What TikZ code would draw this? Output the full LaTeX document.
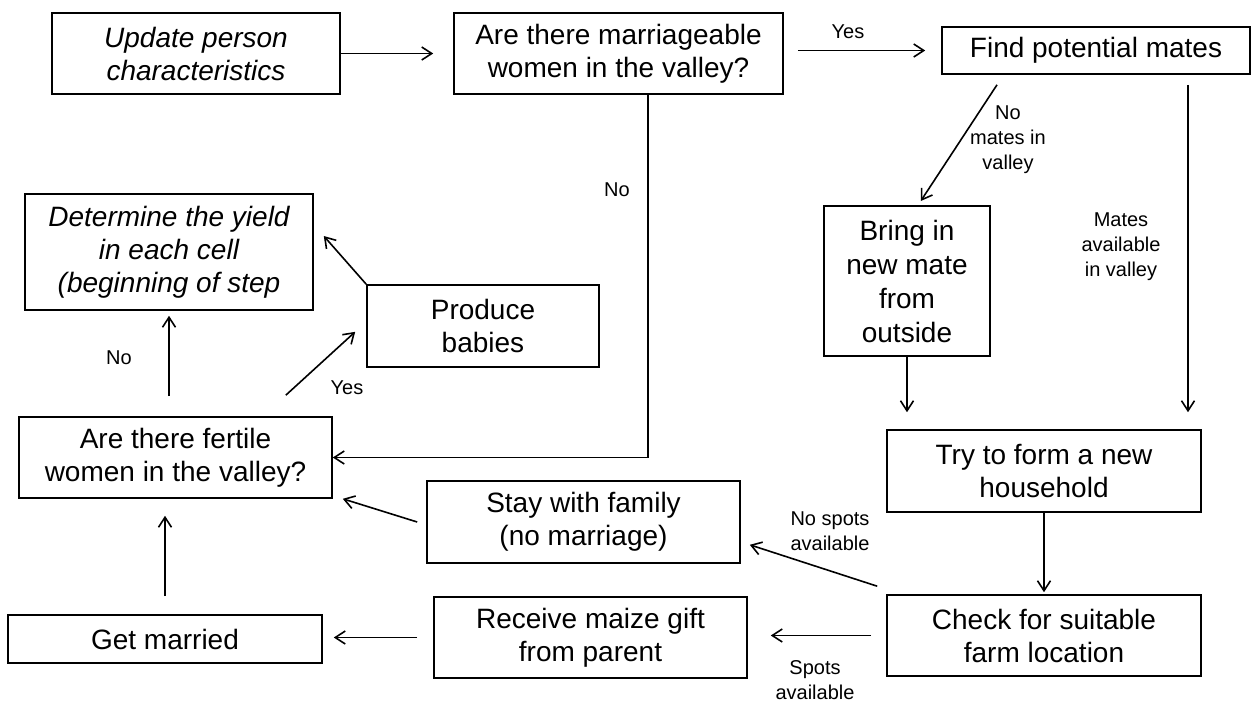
\documentclass[tikz,border=0pt]{standalone}
\usepackage{fontspec}
\setmainfont{Liberation Sans}
\usetikzlibrary{arrows.meta}
\begin{document}
\begin{tikzpicture}[x=1pt, y=-1pt, line width=1.6pt, >={Straight Barb[length=10pt,width=13pt]},
  every node/.style={font=\fontsize{28}{33}\selectfont}]
  \tikzstyle{b}=[draw, align=center, inner sep=0pt]
  \tikzstyle{lbl}=[font=\fontsize{20}{25}\selectfont, align=center, inner sep=0pt]
  \useasboundingbox (0,0) rectangle (1254,713);
  \node[b, minimum width=288pt, minimum height=81pt, font=\fontsize{28}{33}\selectfont\itshape] (upd) at (196,53.5) {Update person\\characteristics};
  \node[b, minimum width=329pt, minimum height=81pt] (mar) at (618.5,53.5) {Are there marriageable\\women in the valley?};
  \node[b, minimum width=308pt, minimum height=47pt] (find) at (1096,50.5) {Find potential mates};
  \node[b, minimum width=288pt, minimum height=116pt, font=\fontsize{28}{33}\selectfont\itshape] (det) at (169,252) {Determine the yield\\in each cell\\(beginning of step};
  \node[b, minimum width=232pt, minimum height=82pt] (prod) at (483,326) {Produce\\babies};
  \node[b, minimum width=166pt, minimum height=150pt, font=\fontsize{28}{34}\selectfont] (bring) at (907,281) {Bring in\\new mate\\from\\outside};
  \node[b, minimum width=313pt, minimum height=81pt] (fert) at (175.5,457.5) {Are there fertile\\women in the valley?};
  \node[b, minimum width=314pt, minimum height=82pt] (try) at (1044,471) {Try to form a new\\household};
  \node[b, minimum width=313pt, minimum height=82pt] (stay) at (583.5,522) {Stay with family\\(no marriage)};
  \node[b, minimum width=314pt, minimum height=81pt] (check) at (1044,635.5) {Check for suitable\\farm location};
  \node[b, minimum width=313pt, minimum height=81pt] (recv) at (590.5,637.5) {Receive maize gift\\from parent};
  \node[b, minimum width=314pt, minimum height=48pt] (wed) at (165,639) {Get married};

  \node[lbl] (lyes1) at (848,32) {Yes};
  \node[lbl] (lno1) at (617,190) {No};
  \node[lbl] (lnomates) at (1008,140) {No\\mates in\\valley};
  \node[lbl] (lmates) at (1121,247) {Mates\\available\\in valley};
  \node[lbl] (lno2) at (119,358) {No};
  \node[lbl] (lyes2) at (347,388) {Yes};
  \node[lbl] (lnospots) at (830,531) {No spots\\available};
  \node[lbl] (lspots) at (815,680) {Spots\\available};

  \draw[->, shorten >=20pt] (upd.east) -- (mar.east -| mar.west);
  \draw[->, shorten <=14pt, shorten >=16pt] (mar.east |- find.west) -- (find.west);
  \draw[->, shorten >=5pt] ([xshift=-99pt,yshift=-10pt]find.south) -- ([xshift=11pt]bring.north);
  \draw[->, shorten <=10pt, shorten >=17pt] ([xshift=92pt]find.south) -- ([xshift=144pt]try.north);
  \draw[->, shorten >=17pt] (bring.south) -- (bring.south |- try.north);
  \draw[->, shorten >=2pt] (try) -- (check);
  \draw[->] ([xshift=-9pt,yshift=8pt]check.north west) -- ([xshift=9pt,yshift=19pt]stay.south east);
  \draw[->, shorten <=15pt, shorten >=23pt] (check.west) -- (check.west -| recv.east);
  \draw[->, shorten <=16pt, shorten >=11pt] (recv.west) -- (recv.west -| wed.east);
  \draw[->, shorten <=18pt, shorten >=17pt] (wed.north) -- (wed.north |- fert.south);
  \draw[->] ([xshift=-9pt]stay.west) -- ([xshift=10pt]fert.south east);
  \draw[->] ([xshift=29.5pt]mar.south) |- (fert.east);
  \draw[->, shorten <=20pt, shorten >=5pt] (det.south |- fert.north) -- (det.south);
  \draw[->] ([xshift=-47pt,yshift=21pt]fert.north east) -- ([xshift=-11pt,yshift=36pt]prod.south west);
  \draw[->] (prod.north west) -- ([xshift=10pt,yshift=16pt]det.east);
\end{tikzpicture}
\end{document}
